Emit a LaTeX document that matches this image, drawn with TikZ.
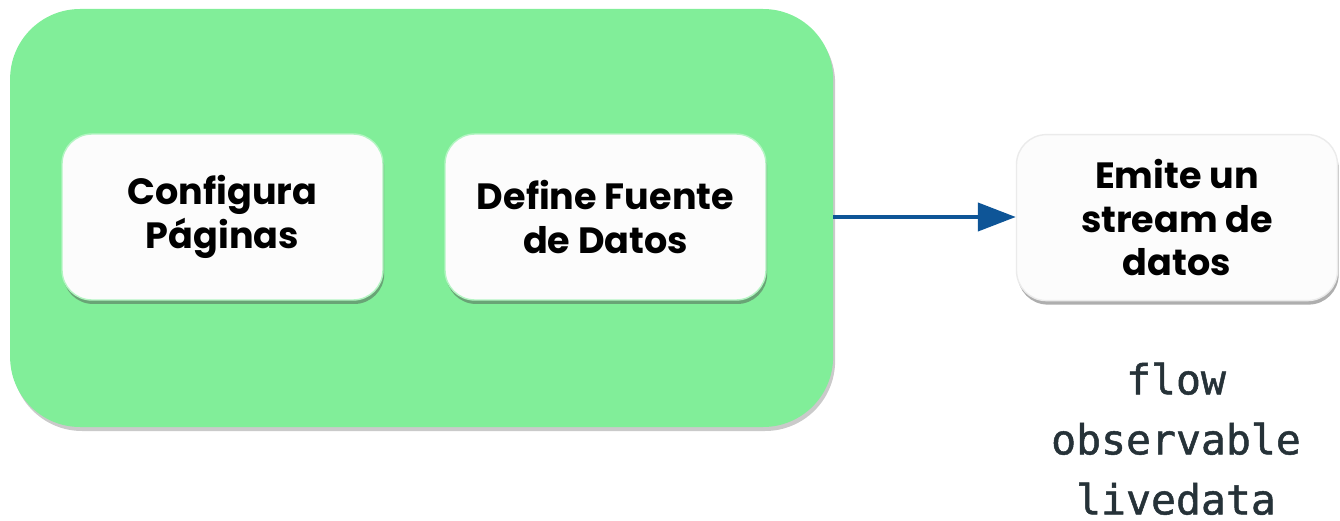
\documentclass[tikz,border=0pt]{standalone}
\usepackage{fontspec}
\newfontfamily\poppins{Poppins}
\newfontfamily\monofont[FakeBold=1.2]{DejaVu Sans Mono}
\usepackage{tikz}
\usetikzlibrary{arrows.meta, shadows, positioning}
\definecolor{groupgreen}{HTML}{81EE99}
\definecolor{arrowblue}{HTML}{0E5597}
\definecolor{boxwhite}{HTML}{FCFCFC}
\definecolor{codegray}{HTML}{263238}

\begin{document}
\begin{tikzpicture}[
    stepbox/.style={draw=groupgreen!60!white, line width=1pt, fill=boxwhite, rounded corners=0.75cm,
        minimum width=8.025cm, minimum height=4.15cm, align=center,
        font=\poppins\bfseries\fontsize{26}{31}\selectfont,
        drop shadow={shadow xshift=0.03cm, shadow yshift=-0.1cm, opacity=0.45, fill=black!70}},
    flowline/.style={arrowblue, line width=3pt, -{Triangle[length=0.95cm, width=0.7cm]}}
]
    \useasboundingbox (0,0) rectangle (33.5,-13.025);
    % container for the two setup steps
    \node[fill=groupgreen, rounded corners=1.75cm, minimum width=20.575cm, minimum height=10.45cm,
        drop shadow={shadow xshift=0.05cm, shadow yshift=-0.1cm, opacity=0.35, fill=black!60}]
        (group) at (10.54,-5.45) {};
    \node[stepbox] (pages) at (5.5625,-5.425) {Configura\\Páginas};
    \node[stepbox] (source) at (15.1375,-5.425) {Define Fuente\\de Datos};
    \node[stepbox, draw=black!8] (stream) at (29.425,-5.44) {Emite un\\stream de\\datos};
    \draw[flowline] (group.east |- source) -- (stream.west |- source);
    \node[codegray, align=center, font=\monofont\fontsize{29.5}{42.7}\selectfont]
        (kinds) at (29.4,-10.97) {flow\\observable\\livedata};
\end{tikzpicture}
\end{document}
